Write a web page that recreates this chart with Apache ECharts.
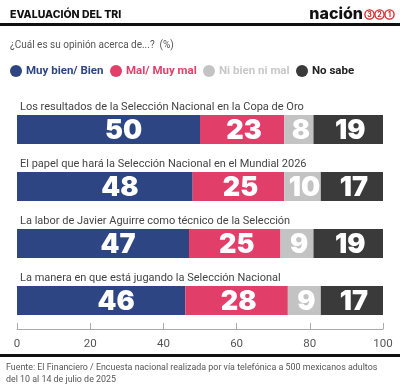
<!DOCTYPE html>
<html><head><meta charset="utf-8">
<script src="https://cdn.jsdelivr.net/npm/echarts@6/dist/echarts.min.js"></script>
<style>html,body{margin:0;padding:0;background:#fff}#c{width:400px;height:386px}</style>
</head><body><div id="c"></div>
<script>
const categories = [
  "Los resultados de la Selección Nacional en la Copa de Oro",
  "El papel que hará la Selección Nacional en el Mundial 2026",
  "La labor de Javier Aguirre como técnico de la Selección",
  "La manera en que está jugando la Selección Nacional"
];
const seriesNames = ["Muy bien/ Bien", "Mal/ Muy mal", "Ni bien ni mal", "No sabe"];
const muyBien = [50, 48, 47, 46];
const mal = [23, 25, 25, 28];
const niBien = [8, 10, 9, 9];
const noSabe = [19, 17, 19, 17];
const xTicks = [0, 20, 40, 60, 80, 100];

const colors = ["#2e4583", "#e13e69", "#c3c3c3", "#3a3a3a"];
const legendText = ["#2e4583", "#e13e69", "#c8c8c8", "#222"];
const legendLeft = [10, 110, 203, 296];
const values = [muyBien, mal, niBien, noSabe];
const heavy = "Inter";
const light = "Roboto";

const chart = echarts.init(document.getElementById('c'), null, {renderer: 'canvas'});
chart.setOption({
  animation: false,
  textStyle: {fontFamily: light},
  legend: seriesNames.map((n, i) => ({
    left: legendLeft[i], top: 65, padding: 0, icon: 'circle', itemWidth: 12, itemHeight: 12, itemGap: 0,
    data: [n],
    textStyle: {color: legendText[i], fontFamily: light, fontWeight: 700, fontSize: 11.5, padding: [0, 0, 0, -1]}
  })),
  grid: {left: 17, right: 17, top: 101, bottom: 57},
  xAxis: {
    type: 'value', min: 0, max: 100, interval: 20,
    splitLine: {show: false},
    axisLine: {show: true, lineStyle: {color: '#aaa', width: 1}},
    axisTick: {show: true, inside: true, length: 6, lineStyle: {color: '#aaa'}},
    axisLabel: {color: '#555', fontSize: 11.5, margin: 9, fontFamily: light,
      formatter: v => xTicks.includes(v) ? String(v) : ''}
  },
  yAxis: {
    type: 'category', data: categories, inverse: true,
    axisLine: {show: false}, axisTick: {show: false},
    axisLabel: {show: true, interval: 0, inside: true, margin: 3, color: '#444', fontSize: 11, fontFamily: light,
      align: 'left', verticalAlign: 'bottom', padding: [0, 0, 17, 0]}
  },
  series: values.map((arr, i) => ({
    name: seriesNames[i], type: 'bar', stack: 'a', data: arr, barWidth: 29,
    itemStyle: {color: colors[i]},
    label: {show: true, position: 'inside', color: '#fff', fontSize: 27, fontWeight: 900,
      fontFamily: heavy, offset: i === 0 ? [15, 1] : [2, 1]}
  })),
  graphic: [
    {type: 'text', left: 10, top: 9, style: {text: 'EVALUACIÓN DEL TRI', fontSize: 10.5, fontWeight: 800, fontFamily: heavy, fill: '#111'}},
    {type: 'rect', shape: {x: 0, y: 23, width: 400, height: 3}, style: {fill: '#111'}},
    {type: 'text', left: 10, top: 40, style: {text: '¿Cuál es su opinión acerca de...?  (%)', fontSize: 10, fontFamily: light, fill: '#555'}},
    {type: 'text', x: 363, y: 14, style: {text: 'nación', fontSize: 16, fontWeight: 800, fontFamily: heavy, fill: '#111', align: 'right', verticalAlign: 'middle'}},
    {type: 'circle', shape: {cx: 369.5, cy: 14.5, r: 4.6}, style: {fill: '#fff', stroke: '#d42020', lineWidth: 1.3}},
    {type: 'circle', shape: {cx: 379.5, cy: 14.5, r: 4.6}, style: {fill: '#fff', stroke: '#d42020', lineWidth: 1.3}},
    {type: 'circle', shape: {cx: 389.5, cy: 14.5, r: 4.6}, style: {fill: '#fff', stroke: '#d42020', lineWidth: 1.3}},
    {type: 'text', x: 369.5, y: 15, style: {text: '3', fontSize: 7, fontWeight: 700, fontFamily: heavy, fill: '#d42020', align: 'center', verticalAlign: 'middle'}},
    {type: 'text', x: 379.5, y: 15, style: {text: '2', fontSize: 7, fontWeight: 700, fontFamily: heavy, fill: '#d42020', align: 'center', verticalAlign: 'middle'}},
    {type: 'text', x: 389.5, y: 15, style: {text: '1', fontSize: 7, fontWeight: 700, fontFamily: heavy, fill: '#d42020', align: 'center', verticalAlign: 'middle'}},
    {type: 'rect', shape: {x: 0, y: 354, width: 400, height: 3}, style: {fill: '#111'}},
    {type: 'text', left: 6, top: 362, style: {text: 'Fuente: El Financiero / Encuesta nacional realizada por vía telefónica a 500 mexicanos adultos\ndel 10 al 14 de julio de 2025', fontSize: 8.9, lineHeight: 12, fontFamily: light, fill: '#555'}}
  ]
});
</script></body></html>
